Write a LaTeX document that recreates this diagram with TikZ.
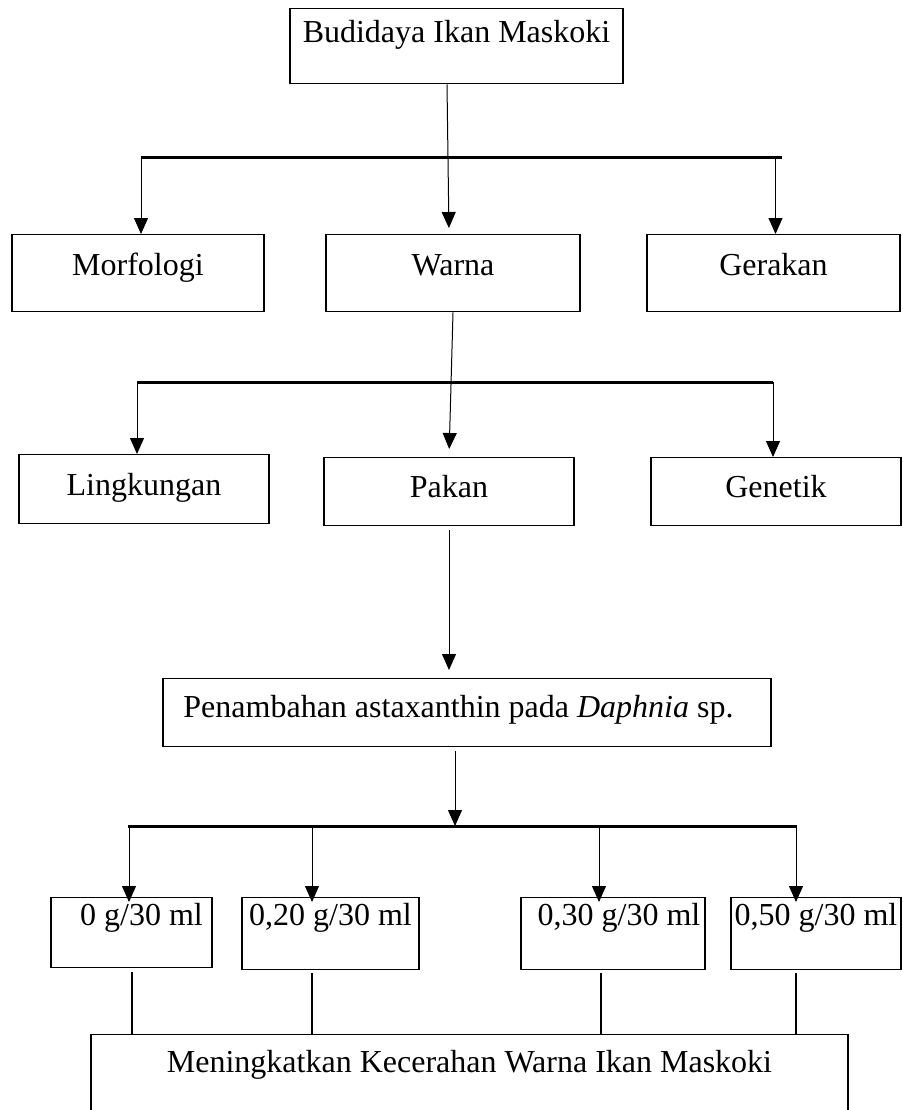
\documentclass[tikz,border=0pt]{standalone}
\usepackage{fontspec}
\setmainfont{Liberation Serif}
\usetikzlibrary{arrows.meta, positioning, calc}

\begin{document}
\begin{tikzpicture}[
    x=1pt, y=-1pt,
    box/.style={
        draw,
        line width=1.4pt,
        inner sep=0pt,
        anchor=north,
        font=\fontsize{32}{38}\selectfont
    },
    arrowline/.style={
        -{Triangle[length=16pt,width=14pt]},
        line width=1pt
    },
    plainline/.style={
        line width=1.3pt
    },
    branchbar/.style={
        line width=3pt
    }
]
    \useasboundingbox (0,0) rectangle (902,1110);

    % level 1
    \node[box, minimum width=333pt, text height=34pt, text depth=41pt] (budidaya) at (456.5,8) {Budidaya Ikan Maskoki};

    \node[box, minimum width=252pt, text height=41pt, text depth=36pt] (morfologi) at (138,234) {Morfologi};
    \node[box, minimum width=254pt, text height=41pt, text depth=36pt] (warna) at (453,234) {Warna};
    \node[box, minimum width=253pt, text height=41pt, text depth=36pt] (gerakan) at (773.5,234) {Gerakan};

    \coordinate (barTop) at (0,158);
    \draw[branchbar] ([xshift=3pt]morfologi.north |- barTop) -- ([xshift=8pt]gerakan.north |- barTop);
    \draw[arrowline, shorten >=6pt] ([xshift=-6pt]budidaya.south -| warna.north) -- ([xshift=-4pt]warna.north);
    \draw[arrowline] ([xshift=3pt]morfologi.north |- barTop) -- ([xshift=3pt]morfologi.north);
    \draw[arrowline] ([xshift=2pt]gerakan.north |- barTop) -- ([xshift=2pt]gerakan.north);

    % level 2
    \node[box, minimum width=250pt, text height=41pt, text depth=28pt] (lingkungan) at (144,454) {Lingkungan};
    \node[box, minimum width=250pt, text height=40pt, text depth=28pt] (pakan) at (449,457) {Pakan};
    \node[box, minimum width=250pt, text height=40pt, text depth=28pt] (genetik) at (776,457) {Genetik};

    \coordinate (barMid) at (0,382);
    \draw[branchbar] ([xshift=-7pt]lingkungan.north |- barMid) -- ([xshift=-3pt]genetik.north |- barMid);
    \draw[arrowline, shorten >=8pt] (warna.south) -- (pakan.north);
    \draw[arrowline] ([xshift=-7pt]lingkungan.north |- barMid) -- ([xshift=-7pt]lingkungan.north);
    \draw[arrowline] ([xshift=-3pt]genetik.north |- barMid) -- ([xshift=-3pt]genetik.north);

    % level 3
    \node[box, minimum width=608pt, text height=39pt, text depth=29pt] (penambahan) at (467,678) {Penambahan astaxanthin pada \textit{Daphnia} sp.\hspace*{17pt}};

    \draw[arrowline, shorten <=4pt, shorten >=8pt] (pakan.south) -- (pakan.south |- penambahan.north);

    \coordinate (split) at (455,826);
    \coordinate (tapA) at (129,826);
    \coordinate (tapB) at (312,826);
    \coordinate (tapC) at (599,826);
    \coordinate (tapD) at (796,826);
    \draw[branchbar] ([xshift=-1pt]tapA) -- ([xshift=1pt]tapD);
    \draw[arrowline, shorten <=4pt] (split |- penambahan.south) -- (split);

    % level 4
    \node[box, minimum width=161pt, text height=28pt, text depth=42pt] (dosisA) at (131.5,897) {\hspace*{20pt}0 g/30 ml};
    \node[box, minimum width=177pt, text height=28pt, text depth=44pt] (dosisB) at (330.5,897) {0,20 g/30 ml};
    \node[box, minimum width=184pt, text height=28pt, text depth=44pt] (dosisC) at (613,897) {\hspace*{12pt}0,30 g/30 ml};
    \node[box, minimum width=170pt, text height=28pt, text depth=44pt] (dosisD) at (816,897) {0,50 g/30 ml};

    \draw[arrowline, shorten >=-5pt] (tapA) -- (tapA |- dosisA.north);
    \draw[arrowline, shorten >=-5pt] (tapB) -- (tapB |- dosisB.north);
    \draw[arrowline, shorten >=-5pt] (tapC) -- (tapC |- dosisC.north);
    \draw[arrowline, shorten >=-5pt] (tapD) -- (tapD |- dosisD.north);

    % result
    \node[box, minimum width=757pt, text height=38pt, text depth=90pt] (hasil) at (469.5,1034) {Meningkatkan Kecerahan Warna Ikan Maskoki};

    \draw[plainline, shorten <=4pt] ([xshift=3pt]dosisA.south -| tapA) -- ([xshift=3pt]tapA |- hasil.north);
    \draw[plainline, shorten <=3pt] (dosisB.south -| tapB) -- (tapB |- hasil.north);
    \draw[plainline, shorten <=3pt] ([xshift=2pt]dosisC.south -| tapC) -- ([xshift=2pt]tapC |- hasil.north);
    \draw[plainline, shorten <=3pt] (dosisD.south -| tapD) -- (tapD |- hasil.north);
\end{tikzpicture}
\end{document}
